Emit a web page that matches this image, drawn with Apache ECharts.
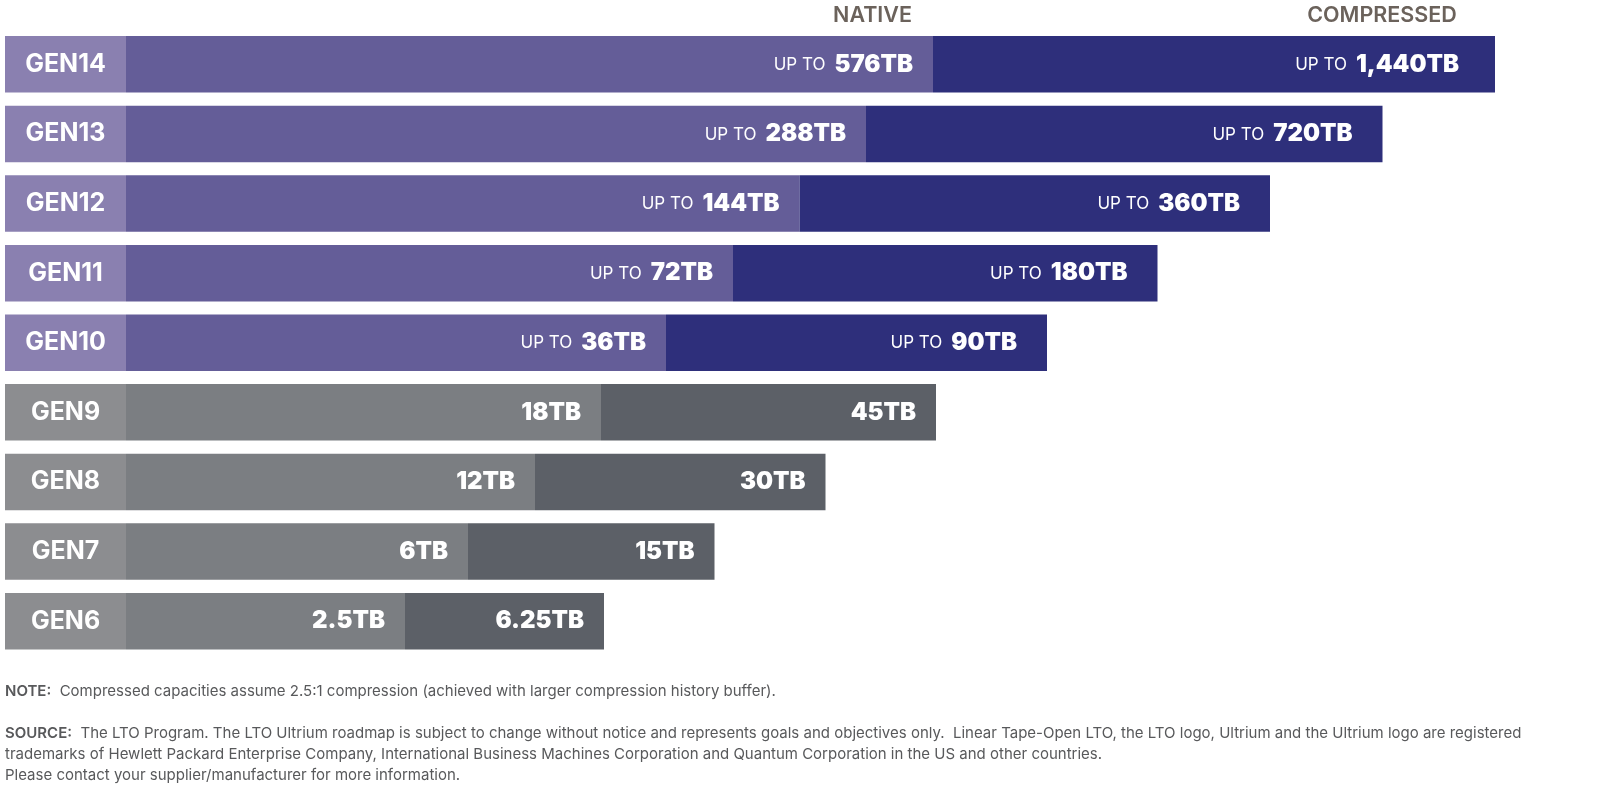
<!DOCTYPE html>
<html>
<head>
<meta charset="utf-8">
<script src="https://cdn.jsdelivr.net/npm/echarts@6/dist/echarts.min.js"></script>
<style>
html,body{margin:0;padding:0;background:#fff;}
#chart{width:1600px;height:795px;}
</style>
</head>
<body>
<div id="chart"></div>
<script>
// ---- data ----
const generations = ['GEN14','GEN13','GEN12','GEN11','GEN10','GEN9','GEN8','GEN7','GEN6'];
const nativeCapacity = ['576TB','288TB','144TB','72TB','36TB','18TB','12TB','6TB','2.5TB'];
const compressedCapacity = ['1,440TB','720TB','360TB','180TB','90TB','45TB','30TB','15TB','6.25TB'];
const showUpTo = [true,true,true,true,true,false,false,false,false];
// drawn bar lengths (axis units)
const labelSegment = [121,121,121,121,121,121,121,121,121];
const nativeLength = [807,740,673.5,607,540,475,409,342,279];
const compressedLength = [562,516.5,470.5,424.5,381,335,290.5,246.5,199];
const headerNative = 'NATIVE';
const headerCompressed = 'COMPRESSED';
const noteText = 'Compressed capacities assume 2.5:1 compression (achieved with larger compression history buffer).';
const sourceLines = [
  'The LTO Program. The LTO Ultrium roadmap is subject to change without notice and represents goals and objectives only.  Linear Tape-Open LTO, the LTO logo, Ultrium and the Ultrium logo are registered',
  'trademarks of Hewlett Packard Enterprise Company, International Business Machines Corporation and Quantum Corporation in the US and other countries.',
  'Please contact your supplier/manufacturer for more information.'
];

// ---- styles ----
const C = {
  purpleLabel:'#8a80b0', purpleNative:'#645d98', purpleComp:'#2e2f7b',
  grayLabel:'#8c8d90', grayNative:'#7b7e82', grayComp:'#5c6067'
};
const heavy = {color:'#fff', fontFamily:'Inter', fontWeight:900, fontSize:24};
const light = {color:'#fff', fontFamily:'Inter', fontWeight:400, fontSize:17};

function capLabel(text, i, dist){
  return {
    show:true, position:'insideRight', distance:dist,
    formatter: showUpTo[i] ? '{u|UP TO}{v|' + text + '}' : '{v|' + text + '}',
    rich:{u:Object.assign({padding:[1,9,0,0]}, light), v:heavy}
  };
}

const genData = labelSegment.map((v,i)=>({
  value:v,
  itemStyle:{color: showUpTo[i] ? C.purpleLabel : C.grayLabel},
  label:{show:true, position:'inside', formatter:generations[i], color:'#fff',
         fontFamily:'Inter', fontWeight:700, fontSize:25}
}));
const nativeData = nativeLength.map((v,i)=>({
  value:v,
  itemStyle:{color: showUpTo[i] ? C.purpleNative : C.grayNative},
  label:capLabel(nativeCapacity[i], i, 20)
}));
const compData = compressedLength.map((v,i)=>({
  value:v,
  itemStyle:{color: showUpTo[i] ? C.purpleComp : C.grayComp},
  label:capLabel(compressedCapacity[i], i, i === 0 ? 36 : (showUpTo[i] ? 30 : 20))
}));

const chart = echarts.init(document.getElementById('chart'), null, {renderer:'canvas'});
const noteFont = {fill:'#58595b', fontFamily:'Inter', fontWeight:400, fontSize:15};
const boldRich = {b:{fontWeight:600, fill:'#58595b', fontFamily:'Inter', fontSize:15}};
const g = [
  {type:'text', x:872.5, y:16, style:{text:headerNative, align:'center', verticalAlign:'middle',
     fill:'#6b625b', fontFamily:'Inter', fontWeight:600, fontSize:21.5}},
  {type:'text', x:1382, y:16, style:{text:headerCompressed, align:'center', verticalAlign:'middle',
     fill:'#6b625b', fontFamily:'Inter', fontWeight:600, fontSize:21.5}},
  {type:'text', x:5, y:691, style:Object.assign({text:'{b|NOTE:}  ' + noteText, verticalAlign:'middle', rich:boldRich}, noteFont)},
  {type:'text', x:5, y:733, style:Object.assign({text:'{b|SOURCE:}  ' + sourceLines[0], verticalAlign:'middle', rich:boldRich}, noteFont)},
  {type:'text', x:5, y:754, style:Object.assign({text:sourceLines[1], verticalAlign:'middle'}, noteFont)},
  {type:'text', x:5, y:775.5, style:Object.assign({text:sourceLines[2], verticalAlign:'middle'}, noteFont)}
];

chart.setOption({
  animation:false,
  grid:{left:5, top:29.5, width:1590, height:626.5, containLabel:false},
  xAxis:{type:'value', min:0, max:1590, show:false},
  yAxis:{type:'category', data:generations, inverse:true, show:false},
  graphic:g,
  series:[
    {type:'bar', stack:'t', barWidth:56.5, data:genData},
    {type:'bar', stack:'t', barWidth:56.5, data:nativeData},
    {type:'bar', stack:'t', barWidth:56.5, data:compData}
  ]
});
</script>
</body>
</html>
